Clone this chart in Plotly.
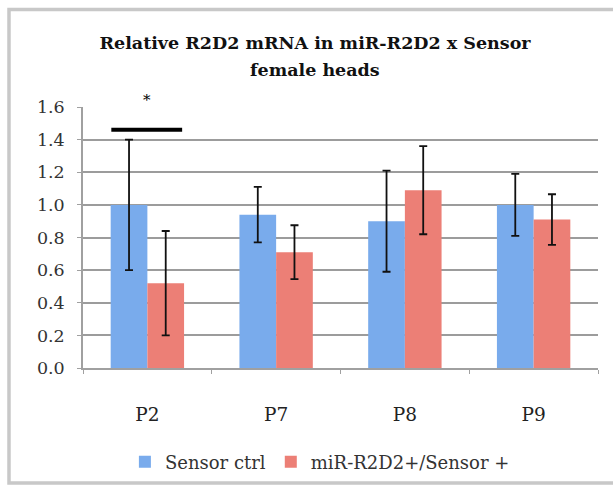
import plotly.graph_objects as go

categories = ["P2", "P7", "P8", "P9"]
ctrl_values = [1.00, 0.94, 0.90, 1.00]
ctrl_errors = [0.40, 0.17, 0.31, 0.19]
mir_values = [0.52, 0.71, 1.09, 0.91]
mir_errors = [0.32, 0.165, 0.27, 0.155]
series_names = ["Sensor ctrl", "miR-R2D2+/Sensor +"]
title_lines = ["Relative R2D2 mRNA in miR-R2D2 x Sensor", "female heads"]
y_ticks = [0.0, 0.2, 0.4, 0.6, 0.8, 1.0, 1.2, 1.4, 1.6]
y_range = [0, 1.6]
sig_category_index = 0
sig_bar_y = 1.46
sig_star_y = 1.64

serif = "DejaVu Serif"
blue = "#79abec"
red = "#ec7f76"

fig = go.Figure()
fig.add_trace(go.Bar(
    x=categories, y=ctrl_values, name=series_names[0],
    marker=dict(color=blue, line=dict(width=0)),
    error_y=dict(type="data", array=ctrl_errors, color="#111111", thickness=1.8, width=4),
))
fig.add_trace(go.Bar(
    x=categories, y=mir_values, name=series_names[1],
    marker=dict(color=red, line=dict(width=0)),
    error_y=dict(type="data", array=mir_errors, color="#111111", thickness=1.8, width=4),
))

# significance bar and asterisk over P2
fig.add_shape(type="line", xref="x", yref="y",
              x0=sig_category_index - 0.28, x1=sig_category_index + 0.27,
              y0=sig_bar_y, y1=sig_bar_y, line=dict(color="#000000", width=4))
fig.add_annotation(x=sig_category_index, y=sig_star_y / y_range[1], xref="x", yref="paper",
                   text="*", showarrow=False, yanchor="middle",
                   font=dict(family=serif, size=15, color="#000000"))

# second title line
fig.add_annotation(x=(315 - 83) / 515, y=(368 - 70) / 261, xref="paper", yref="paper",
                   text="<b>" + title_lines[1] + "</b>", showarrow=False,
                   xanchor="center", yanchor="middle",
                   font=dict(family=serif, size=17.5, color="#111111"))

# outer chart frame (left, top, bottom edges)
fig.add_shape(type="path", xref="paper", yref="paper",
              path="M 1.2,-0.4406 L -0.1437,-0.4406 L -0.1437,1.3736 L 1.2,1.3736",
              line=dict(color="#c8c8c8", width=3.5), layer="below")

fig.update_layout(
    width=613, height=485,
    margin=dict(l=83, r=15, t=107, b=117, autoexpand=False),
    paper_bgcolor="white", plot_bgcolor="white",
    barmode="group", bargap=0.43, bargroupgap=0.0,
    title=dict(text="<b>" + title_lines[0] + "</b>",
               x=315 / 613, xanchor="center", y=1 - 42.5 / 485, yanchor="middle",
               font=dict(family=serif, size=17.5, color="#111111")),
    font=dict(family=serif, size=18, color="#333333"),
    legend=dict(orientation="h", x=0.46, xanchor="center", y=-0.36, yanchor="middle",
                font=dict(family=serif, size=18, color="#333333"),
                itemwidth=30, traceorder="normal"),
    showlegend=True,
)
fig.update_xaxes(
    showline=True, linecolor="#a0a0a0", linewidth=1.5,
    ticks="outside", tickson="boundaries", ticklen=4, tickcolor="#a0a0a0",
    ticklabelstandoff=29,
    tickfont=dict(family=serif, size=18.5, color="#222222"),
    showgrid=False,
)
fig.update_yaxes(
    range=y_range, tickvals=y_ticks, tickformat=".1f",
    showline=True, linecolor="#a0a0a0", linewidth=1.5,
    ticks="outside", ticklen=4, tickcolor="#a0a0a0",
    ticklabelstandoff=9,
    showgrid=True, gridcolor="#9c9c9c", gridwidth=1.5,
    zeroline=False,
    tickfont=dict(family=serif, size=17.5, color="#333333"),
)

fig.write_html("out.html")
